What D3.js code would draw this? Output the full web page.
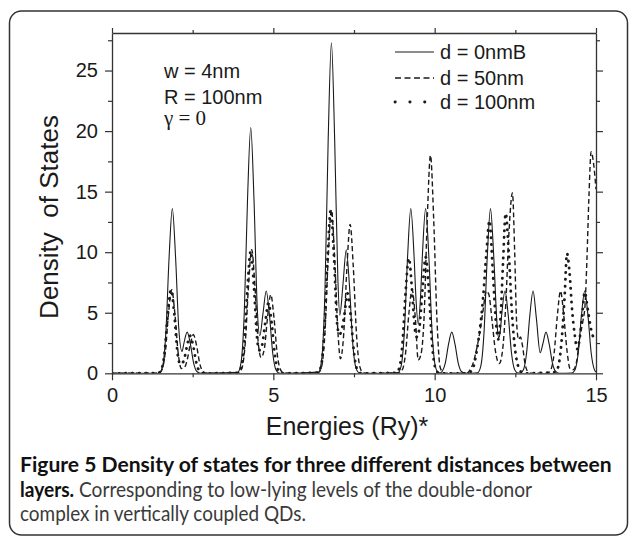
<!DOCTYPE html>
<html><head><meta charset="utf-8">
<script src="https://cdn.jsdelivr.net/npm/d3@7/dist/d3.min.js"></script>
<style>
html,body{margin:0;padding:0;background:#fff;}
svg{display:block;}
</style></head>
<body>
<svg id="chart" width="629" height="536"></svg>
<script>
// ---------- data ----------
const xTicks = [0, 5, 10, 15];
const xMinorTicks = [2.5, 7.5, 12.5];
const yTicks = [0, 5, 10, 15, 20, 25];
const yMinorTicks = [2.5, 7.5, 12.5, 17.5, 22.5, 27.5];
const seriesNames = ["d = 0nmB", "d = 50nm", "d = 100nm"];
const annotations = ["w = 4nm", "R = 100nm", "γ = 0"];

// d = 0nmB (solid)  [energy, DOS]
const dosD0 = [
 [0,0],[1.45,0],[1.57,0.6],[1.67,3.4],[1.77,9.6],[1.87,13.6],[1.97,9.6],[2.07,3.7],[2.17,1.8],[2.23,2.5],[2.33,3.4],[2.43,2.4],[2.53,0.85],[2.63,0.15],[2.75,0],
 [3.9,0.08],[4.0,0.9],[4.1,5.05],[4.2,14.35],[4.3,20.3],[4.4,14.4],[4.5,5.5],[4.58,3.1],[4.68,4.95],[4.78,6.8],[4.88,4.8],[4.98,1.7],[5.08,0.3],[5.2,0],
 [6.4,0.1],[6.5,1.2],[6.6,6.8],[6.7,19.3],[6.8,27.3],[6.9,19.4],[7.0,7.8],[7.06,4.8],[7.16,7.4],[7.26,10.2],[7.36,7.2],[7.46,2.5],[7.56,0.45],[7.68,0],
 [8.86,0.05],[8.96,0.6],[9.06,3.4],[9.16,9.6],[9.26,13.6],[9.36,9.75],[9.42,6.2],[9.49,4.1],[9.56,6.2],[9.62,9.75],[9.72,13.6],[9.82,9.6],[9.92,3.4],[10.02,0.6],[10.12,0.05],[10.2,0.05],
 [10.23,0.15],[10.33,0.85],[10.43,2.4],[10.53,3.4],[10.63,2.4],[10.73,0.85],[10.83,0.15],[10.95,0],
 [11.33,0.05],[11.43,0.6],[11.53,3.4],[11.63,9.6],[11.73,13.6],[11.83,9.7],[11.93,4.2],[11.98,2.9],[12.03,3.4],[12.08,4.9],[12.18,6.8],[12.28,4.8],[12.38,1.7],[12.48,0.3],[12.58,0.03],
 [12.65,0.03],[12.75,0.3],[12.85,1.7],[12.95,4.8],[13.05,6.8],[13.15,4.6],[13.27,1.7],[13.35,2.4],[13.45,3.4],[13.55,2.4],[13.65,0.85],[13.75,0.15],[13.85,0],
 [14.25,0.03],[14.35,0.3],[14.45,1.7],[14.55,4.8],[14.65,6.8],[14.75,4.8],[14.85,1.7],[14.95,0.3],[15,0.1]
];

// d = 50nm (dashed)
const dosD50 = [
 [0,0],[1.45,0.02],[1.55,0.3],[1.65,1.7],[1.75,4.9],[1.85,6.9],[1.95,4.9],[2.05,1.7],[2.15,0.4],[2.25,0.5],[2.32,1.0],[2.42,2.3],[2.52,3.2],[2.62,2.3],[2.72,0.8],[2.82,0.15],[2.95,0],
 [3.93,0.04],[4.03,0.45],[4.13,2.5],[4.23,7.2],[4.33,10.2],[4.43,7.2],[4.53,2.6],[4.62,1.3],[4.72,2.0],[4.82,4.6],[4.92,6.5],[5.02,4.6],[5.12,1.6],[5.22,0.3],[5.32,0.03],[5.45,0],
 [6.4,0.05],[6.5,0.6],[6.6,3.4],[6.7,9.5],[6.8,13.5],[6.9,9.5],[7.0,3.5],[7.08,1.2],[7.18,3.2],[7.28,8.7],[7.38,12.3],[7.48,8.7],[7.58,3.1],[7.68,0.55],[7.78,0.05],[7.9,0],
 [8.9,0.03],[9.0,0.3],[9.1,1.7],[9.2,4.9],[9.3,6.9],[9.4,4.6],[9.49,1.1],[9.57,1.5],[9.67,4.5],[9.77,12.7],[9.87,18.0],[9.97,12.7],[10.07,4.5],[10.17,0.5],[10.27,0.05],[10.4,0],
 [11.0,0],[11.1,0.3],[11.2,0.9],[11.3,2.0],[11.4,3.4],[11.5,5.2],[11.6,6.8],[11.68,6.5],[11.78,4.3],[11.88,1.9],[12.0,0.8],[12.1,1.8],[12.2,5.5],[12.3,11.5],[12.41,14.9],[12.48,10.0],[12.54,4.2],[12.6,2.8],[12.66,3.0],[12.72,2.3],[12.8,0.8],[12.9,0.1],[13.0,0],
 [13.5,0],[13.6,0.3],[13.7,1.6],[13.8,4.7],[13.9,6.8],[14.0,4.8],[14.1,1.9],[14.2,0.35],[14.3,0.3],[14.4,1.0],[14.5,3.0],[14.6,4.4],[14.66,5.6],[14.72,9.5],[14.78,14.5],[14.85,18.3],[14.93,17.2],[15.0,15.2]
];

// d = 100nm (dotted)
const dosD100 = [
 [0,0],[1.43,0.02],[1.53,0.3],[1.63,1.7],[1.73,4.9],[1.83,6.9],[1.93,4.9],[2.03,1.7],[2.12,0.75],[2.22,1.0],[2.32,2.2],[2.42,3.1],[2.52,2.2],[2.62,0.8],[2.72,0.15],[2.85,0],
 [3.9,0.04],[4.0,0.45],[4.1,2.5],[4.2,7.1],[4.3,10.1],[4.4,7.1],[4.5,2.8],[4.57,1.9],[4.65,2.3],[4.75,4.2],[4.85,5.8],[4.95,4.1],[5.05,1.45],[5.15,0.25],[5.28,0],
 [6.38,0.05],[6.48,0.6],[6.58,3.4],[6.68,9.5],[6.78,13.5],[6.88,9.6],[6.98,4.0],[7.05,3.2],[7.12,3.6],[7.2,4.8],[7.3,6.6],[7.4,4.7],[7.5,1.7],[7.6,0.3],[7.72,0],
 [8.8,0.04],[8.9,0.4],[9.0,2.4],[9.1,6.7],[9.2,9.5],[9.3,6.8],[9.38,3.8],[9.45,3.0],[9.52,3.6],[9.62,6.8],[9.72,9.6],[9.82,6.8],[9.92,2.4],[10.02,0.45],[10.12,0.04],[10.25,0],
 [11.0,0],[11.1,0.1],[11.2,0.5],[11.3,1.8],[11.4,3.6],[11.5,6.2],[11.6,9.8],[11.7,12.6],[11.8,8.5],[11.9,4.2],[11.97,2.8],[12.05,5.0],[12.12,9.2],[12.2,13.2],[12.3,9.8],[12.4,4.8],[12.5,1.8],[12.6,0.5],[12.72,0.05],[12.85,0],
 [13.75,0.1],[13.85,0.8],[13.95,3.2],[14.03,6.5],[14.1,9.9],[14.18,8.3],[14.26,5.2],[14.34,3.2],[14.42,2.0],[14.5,3.0],[14.58,5.0],[14.65,6.7],[14.75,5.2],[14.85,3.6],[14.93,2.9],[15.0,2.7]
];

// ---------- layout ----------
const svg = d3.select("#chart");
const L = 112, R = 596, T = 33, B = 373.3;
const x = d3.scaleLinear().domain([0, 15]).range([L, R]);
const y = d3.scaleLinear().domain([0, 28.1]).range([B, T]);
const ink = "#1a1a1a";
const axisFont = "'Liberation Sans', Arial, Helvetica, sans-serif";

// figure border
svg.append("rect").attr("x", 9.5).attr("y", 11).attr("width", 618).attr("height", 524)
  .attr("rx", 12).attr("fill", "none").attr("stroke", "#333").attr("stroke-width", 1.5);

svg.append("defs").append("clipPath").attr("id", "clip")
  .append("rect").attr("x", L).attr("y", T).attr("width", R - L).attr("height", B - T);

// curves
const line = d3.line().x(d => x(d[0])).y(d => y(d[1])).curve(d3.curveMonotoneX);
const g = svg.append("g").attr("clip-path", "url(#clip)");
g.append("path").datum(dosD0).attr("d", line).attr("fill", "none")
  .attr("stroke", ink).attr("stroke-width", 1.1);
g.append("path").datum(dosD50).attr("d", line).attr("fill", "none")
  .attr("stroke", ink).attr("stroke-width", 1.4).attr("stroke-dasharray", "5,3");
g.append("path").datum(dosD100).attr("d", line).attr("fill", "none")
  .attr("stroke", ink).attr("stroke-width", 2.8).attr("stroke-linecap", "round")
  .attr("stroke-dasharray", "0.3,6.5");

// axes
function styleAxis(sel) {
  sel.selectAll("path.domain").attr("stroke", "#333").attr("stroke-width", 1.3);
  sel.selectAll(".tick line").attr("stroke", "#333").attr("stroke-width", 1.2);
  sel.selectAll("text").attr("font-family", axisFont).attr("font-size", 20).attr("fill", ink);
}
const ax = svg.append("g").attr("transform", `translate(0,${B})`)
  .call(d3.axisBottom(x).tickValues(xTicks).tickFormat(d3.format("d")).tickSizeInner(7).tickSizeOuter(0).tickPadding(8));
styleAxis(ax);
const axm = svg.append("g").attr("transform", `translate(0,${B})`)
  .call(d3.axisBottom(x).tickValues(xMinorTicks).tickFormat("").tickSizeInner(4).tickSizeOuter(0));
styleAxis(axm); axm.select("path.domain").remove();

const ay = svg.append("g").attr("transform", `translate(${L},0)`)
  .call(d3.axisLeft(y).tickValues(yTicks).tickFormat(d3.format("d")).tickSizeInner(7).tickSizeOuter(0).tickPadding(7));
styleAxis(ay);
const aym = svg.append("g").attr("transform", `translate(${L},0)`)
  .call(d3.axisLeft(y).tickValues(yMinorTicks).tickFormat("").tickSizeInner(4).tickSizeOuter(0));
styleAxis(aym); aym.select("path.domain").remove();

const at = svg.append("g").attr("transform", `translate(0,${T})`)
  .call(d3.axisTop(x).tickValues(xTicks).tickFormat("").tickSizeInner(5).tickSizeOuter(0));
styleAxis(at);
const atm = svg.append("g").attr("transform", `translate(0,${T})`)
  .call(d3.axisTop(x).tickValues(xMinorTicks).tickFormat("").tickSizeInner(3).tickSizeOuter(0));
styleAxis(atm); atm.select("path.domain").remove();

const ar = svg.append("g").attr("transform", `translate(${R},0)`)
  .call(d3.axisRight(y).tickValues(yTicks).tickFormat("").tickSizeInner(7).tickSizeOuter(0));
styleAxis(ar);
const arm = svg.append("g").attr("transform", `translate(${R},0)`)
  .call(d3.axisRight(y).tickValues(yMinorTicks).tickFormat("").tickSizeInner(4).tickSizeOuter(0));
styleAxis(arm); arm.select("path.domain").remove();

// axis titles
svg.append("text").attr("x", 347).attr("y", 435).attr("text-anchor", "middle")
  .attr("font-family", axisFont).attr("font-size", 25).attr("fill", ink).text("Energies (Ry)*");
svg.append("text").attr("transform", "translate(58,217) rotate(-90)").attr("text-anchor", "middle")
  .attr("font-family", axisFont).attr("font-size", 26).attr("fill", ink)
  .attr("xml:space", "preserve").style("white-space", "pre").text("Density  of States");

// annotations
svg.append("text").attr("x", 164).attr("y", 78).attr("font-family", axisFont).attr("font-size", 20).attr("fill", ink).text(annotations[0]);
svg.append("text").attr("x", 164).attr("y", 104).attr("font-family", axisFont).attr("font-size", 20).attr("fill", ink).text(annotations[1]);
svg.append("text").attr("x", 164).attr("y", 125).attr("font-family", "'Liberation Serif', 'Times New Roman', serif").attr("font-size", 21).attr("fill", ink).text(annotations[2]);

// legend
const legY = [52, 78, 102];
const legStyles = [
  {w: 1.1, dash: null, cap: "butt"},
  {w: 1.4, dash: "6,3.5", cap: "butt"},
  {w: 2.8, dash: "0.3,14.5", cap: "round"}
];
seriesNames.forEach((name, i) => {
  const ln = svg.append("line").attr("x1", 395).attr("x2", 434).attr("y1", legY[i]).attr("y2", legY[i])
    .attr("stroke", ink).attr("stroke-width", legStyles[i].w).attr("stroke-linecap", legStyles[i].cap);
  if (legStyles[i].dash) ln.attr("stroke-dasharray", legStyles[i].dash);
  svg.append("text").attr("x", 440).attr("y", legY[i] + 7).attr("font-family", axisFont)
    .attr("font-size", 20).attr("fill", ink).text(name);
});

// caption
const capFont = "Lato, 'Open Sans', sans-serif";
const cap1 = svg.append("text").attr("x", 20).attr("y", 472).attr("font-family", capFont)
  .attr("font-size", 17).attr("font-weight", "bold").attr("fill", "#111")
  .text("Figure 5 Density of states for three different distances between");
const cap2 = svg.append("text").attr("x", 20).attr("y", 497).attr("font-family", capFont).attr("font-size", 17);
cap2.append("tspan").attr("font-weight", "bold").attr("fill", "#111").text("layers.");
cap2.append("tspan").attr("fill", "#3a3a3a").text(" Corresponding to low-lying levels of the double-donor");
const cap3 = svg.append("text").attr("x", 20).attr("y", 521).attr("font-family", capFont)
  .attr("font-size", 17).attr("fill", "#3a3a3a").text("complex in vertically coupled QDs.");
// fit caption size so the first line spans the same width as in the figure
const w1 = cap1.node().getComputedTextLength();
const capSize = Math.min(22, 17 * 592 / w1);
[cap1, cap2, cap3].forEach(c => c.attr("font-size", capSize));
// the regular-weight face in the figure is narrower: match line widths
cap2.attr("textLength", 512).attr("lengthAdjust", "spacingAndGlyphs");
cap3.attr("textLength", 286).attr("lengthAdjust", "spacingAndGlyphs");
</script>
</body></html>
